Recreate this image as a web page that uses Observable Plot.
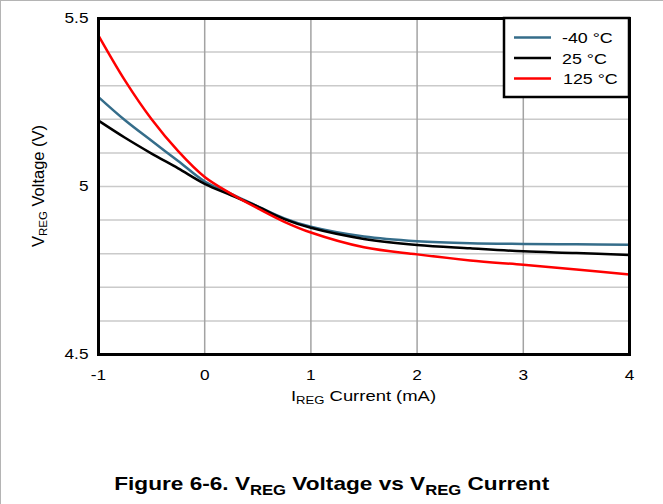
<!DOCTYPE html>
<html>
<head>
<meta charset="utf-8">
<script src="https://cdn.jsdelivr.net/npm/d3@7"></script>
<script src="https://cdn.jsdelivr.net/npm/@observablehq/plot@0.6"></script>
<style>
  html, body { margin: 0; padding: 0; background: #fff; }
  #wrap { position: relative; width: 663px; height: 504px; overflow: hidden; font-family: "Liberation Sans", Arial, sans-serif; }
  #border { position: absolute; left: 0; top: 0; width: 663px; height: 504px; border-top: 1px solid #b4b4b4; border-left: 1px solid #b4b4b4; box-sizing: border-box; pointer-events: none; }
  #caption { position: absolute; left: 0; width: 663px; top: 473px; text-align: center; font-family: "Liberation Sans", Arial, sans-serif; font-weight: bold; font-size: 19px; color: #000; }
  #caption span { display: inline-block; transform: scaleX(1.19); transform-origin: center; white-space: nowrap; }
  #caption sub { font-size: 14px; vertical-align: -5px; line-height: 0; }
  svg { display: block; }
</style>
</head>
<body>
<div id="wrap">
  <div id="chart"></div>
  <div id="caption"><span>Figure 6-6. V<sub>REG</sub> Voltage vs V<sub>REG</sub> Current</span></div>
  <div id="border"></div>
</div>
<script>
const current = [-1, -0.75, -0.5, -0.25, 0, 0.25, 0.5, 0.75, 1, 1.5, 2, 2.5, 3, 3.5, 4];
const vMinus40 = [5.266, 5.197, 5.136, 5.076, 5.015, 4.978, 4.941, 4.905, 4.880, 4.851, 4.837, 4.831, 4.829, 4.828, 4.827];
const v25 = [5.196, 5.145, 5.098, 5.054, 5.008, 4.974, 4.940, 4.903, 4.877, 4.844, 4.826, 4.816, 4.807, 4.802, 4.796];
const v125 = [5.449, 5.315, 5.200, 5.105, 5.028, 4.978, 4.935, 4.895, 4.863, 4.819, 4.798, 4.780, 4.767, 4.753, 4.738];
const seriesNames = ["-40 °C", "25 °C", "125 °C"];
const seriesColors = ["#356d8a", "#000000", "#ff0000"];
const xTicks = [-1, 0, 1, 2, 3, 4];
const yTicks = [4.5, 5, 5.5];
const yGrid = [4.6, 4.7, 4.8, 4.9, 5.0, 5.1, 5.2, 5.3, 5.4];
const STRETCH = 1.19; // horizontal stretch of the reference's text

const seriesValues = [vMinus40, v25, v125];
const data = [];
seriesValues.forEach((vals, i) => {
  vals.forEach((v, j) => data.push({series: seriesNames[i], x: current[j], y: v}));
});

const plot = Plot.plot({
  width: 663,
  height: 420,
  marginLeft: 98,
  marginRight: 34,
  marginTop: 18,
  marginBottom: 66,
  style: {fontFamily: "'Liberation Sans', Arial, sans-serif", fontSize: "14.5px", color: "#000", background: "#fff"},
  x: {domain: [-1, 4], ticks: xTicks, tickSize: 0, tickPadding: 15, label: null, tickFormat: d => String(d)},
  y: {domain: [4.5, 5.5], ticks: yTicks, tickSize: 0, tickPadding: 10, label: null, tickFormat: d => String(d)},
  color: {domain: seriesNames, range: seriesColors},
  marks: [
    Plot.ruleY(yGrid, {stroke: "#cacaca", strokeWidth: 1.5}),
    Plot.ruleX(xTicks.slice(1, -1), {stroke: "#a3a3a3", strokeWidth: 1.5}),
    Plot.line(data, {x: "x", y: "y", z: "series", stroke: "series", strokeWidth: 2.5, curve: "catmull-rom"}),
    Plot.frame({stroke: "#000", strokeWidth: 3})
  ]
});
document.getElementById("chart").appendChild(plot);

const svg = d3.select(plot);
// stretch tick labels horizontally like the reference (keep Plot's em offsets)
svg.selectAll('g[aria-label="x-axis tick label"] text, g[aria-label="y-axis tick label"] text').each(function() {
  const t = this.getAttribute("transform") || "";
  this.setAttribute("transform", `${t} scale(${STRETCH},1)`);
});

const xs = plot.scale("x"), ys = plot.scale("y");
// axis titles with subscripts
const xl = svg.append("text")
  .attr("transform", `translate(${(xs.apply(-1) + xs.apply(4)) / 2},401) scale(${STRETCH},1)`)
  .attr("text-anchor", "middle").attr("font-size", 15.5).attr("fill", "#000");
xl.append("tspan").text("I");
xl.append("tspan").attr("font-size", 11).attr("dy", 3).text("REG");
xl.append("tspan").attr("dy", -3).text(" Current (mA)");

const yc = (ys.apply(4.5) + ys.apply(5.5)) / 2;
const yl = svg.append("text")
  .attr("transform", `translate(44,${yc}) rotate(-90)`)
  .attr("text-anchor", "middle").attr("font-size", 16.5).attr("fill", "#000");
yl.append("tspan").text("V");
yl.append("tspan").attr("font-size", 11.5).attr("dy", 3).text("REG");
yl.append("tspan").attr("dy", -3).text(" Voltage (V)");

// legend
const lg = svg.append("g");
lg.append("rect").attr("x", 504).attr("y", 18).attr("width", 125).attr("height", 79)
  .attr("fill", "#fff").attr("stroke", "#000").attr("stroke-width", 2.5);
seriesNames.forEach((name, i) => {
  const y = 37.5 + i * 20.5;
  lg.append("line").attr("x1", 514).attr("x2", 551).attr("y1", y).attr("y2", y)
    .attr("stroke", seriesColors[i]).attr("stroke-width", 2.5);
  lg.append("text").attr("transform", `translate(${i === 2 ? 563 : 562},${y + 5.5}) scale(${STRETCH},1)`)
    .attr("text-anchor", "start").attr("font-size", 15).attr("fill", "#000").text(name);
});
</script>
</body>
</html>
